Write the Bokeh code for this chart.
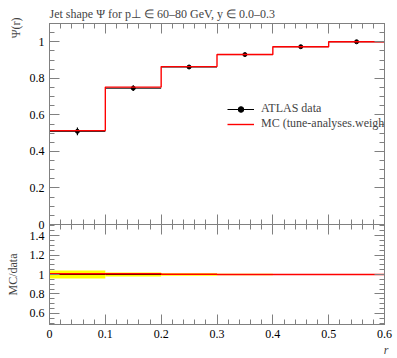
import numpy as np
from bokeh.plotting import figure
from bokeh.layouts import column
from bokeh.models import (Range1d, LinearAxis, FixedTicker, CustomJSTickFormatter,
                          Title, Legend, LegendItem)
from bokeh.embed import file_html
from bokeh.resources import INLINE

# ---------------- data ----------------
r_edges = [0.0, 0.1, 0.2, 0.3, 0.4, 0.5, 0.6]
data_psi = [0.510, 0.746, 0.862, 0.930, 0.973, 1.000]
data_err = [0.021, 0.016, 0.011, 0.006, 0.003, 0.001]
mc_psi = [0.514, 0.752, 0.864, 0.930, 0.973, 1.000]

x_ticks = [0.0, 0.1, 0.2, 0.3, 0.4, 0.5, 0.6]
main_y_ticks = [0.0, 0.2, 0.4, 0.6, 0.8, 1.0]
ratio_y_ticks = [0.6, 0.8, 1.0, 1.2, 1.4]

title_text = "Jet shape Ψ for p⊥ ∈ 60–80 GeV, y ∈ 0.0–0.3"
ylabel_main = "Ψ(r)"
ylabel_ratio = "MC/data"
xlabel = "r"
legend_data = "ATLAS data"
legend_mc = "MC (tune-analyses.weight"

# ---------------- style ----------------
FONT = "Liberation Serif"
GREY = "#808080"
FS = "12px"

lo = np.array(r_edges[:-1])
hi = np.array(r_edges[1:])
mid = (lo + hi) / 2
d = np.array(data_psi)
e = np.array(data_err)
m = np.array(mc_psi)

x_minor = list(np.round(np.arange(0, 0.6001, 0.02), 4))
main_minor = list(np.round(np.arange(0, 1.1001, 0.05), 4))
ratio_minor = list(np.round(np.arange(0.45, 1.5501, 0.05), 4))

fmt_code = "return Number(tick.toFixed(2)).toString();"


def style_axis(ax, ticks, minor, labels):
    ax.ticker = FixedTicker(ticks=ticks, minor_ticks=minor)
    ax.major_tick_in = 10
    ax.major_tick_out = 0
    ax.minor_tick_in = 5
    ax.minor_tick_out = 0
    ax.axis_line_color = GREY
    ax.major_tick_line_color = GREY
    ax.minor_tick_line_color = GREY
    if labels:
        ax.formatter = CustomJSTickFormatter(code=fmt_code)
        ax.major_label_text_font = FONT
        ax.major_label_text_font_size = FS
        ax.major_label_text_color = "black"
        ax.major_label_standoff = 5
    else:
        ax.major_label_text_font_size = "0px"
        ax.major_label_standoff = 0


def make_fig(height, yr, top, bottom):
    p = figure(width=394, height=height, x_range=Range1d(0, 0.6), y_range=yr,
               output_backend="svg", toolbar_location=None,
               min_border_left=49, min_border_right=10,
               min_border_top=top, min_border_bottom=bottom)
    p.grid.visible = False
    p.outline_line_color = GREY
    return p


# ---------------- main panel ----------------
main = make_fig(231, Range1d(0, 1.1), 23, 7)
style_axis(main.xaxis[0], x_ticks, x_minor, False)
style_axis(main.yaxis[0], main_y_ticks, main_minor, True)
ax_top = LinearAxis()
style_axis(ax_top, x_ticks, x_minor, False)
main.add_layout(ax_top, "above")
ax_right = LinearAxis()
style_axis(ax_right, main_y_ticks, main_minor, False)
main.add_layout(ax_right, "right")

seg_r = main.segment(x0=lo, x1=hi, y0=d, y1=d, line_color="black", line_width=1)
main.segment(x0=mid, x1=mid, y0=d - e, y1=d + e, line_color="black", line_width=1.2)
sc_r = main.scatter(x=mid, y=d, size=4, color="black")
step_r = main.step(x=r_edges, y=list(m) + [m[-1]], mode="after",
                   line_color="#ff0000", line_width=1.4)

legend = Legend(items=[LegendItem(label=legend_data, renderers=[seg_r, sc_r]),
                       LegendItem(label=legend_mc, renderers=[step_r])],
                location=(178, 93), padding=0, margin=0, spacing=0,
                label_height=14, glyph_height=14, glyph_width=27,
                label_standoff=7, label_text_font=FONT,
                label_text_font_size=FS, background_fill_alpha=0,
                border_line_alpha=0)
main.add_layout(legend, "center")

main.add_layout(Title(text=title_text, align="left", text_font=FONT,
                      text_font_size=FS, text_font_style="normal",
                      standoff=6, offset=0), "above")
main.add_layout(Title(text=ylabel_main, align="right", text_font=FONT,
                      text_font_size=FS, text_font_style="normal",
                      standoff=8, offset=-6), "left")

# ---------------- ratio panel ----------------
ratio = make_fig(132, Range1d(0.485, 1.515), 0, 32)
ratio.margin = (-7, 0, 0, 0)
ratio.background_fill_alpha = 0
ratio.border_fill_alpha = 0
style_axis(ratio.xaxis[0], x_ticks, x_minor, True)
style_axis(ratio.yaxis[0], ratio_y_ticks, ratio_minor, True)
ratio.yaxis[0].axis_label = ylabel_ratio
ratio.yaxis[0].axis_label_text_font = FONT
ratio.yaxis[0].axis_label_text_font_size = FS
ratio.yaxis[0].axis_label_text_font_style = "normal"
ratio.yaxis[0].axis_label_standoff = 7
rax_top = LinearAxis()
style_axis(rax_top, x_ticks, x_minor, False)
ratio.add_layout(rax_top, "above")
rax_right = LinearAxis()
style_axis(rax_right, ratio_y_ticks, ratio_minor, False)
ratio.add_layout(rax_right, "right")

rel = e / d
data_ratio = d / d
mc_ratio = m / d
ratio.quad(left=lo, right=hi, bottom=data_ratio - rel, top=data_ratio + rel,
           fill_color="#ffff00", line_color=None)
ratio.step(x=r_edges, y=list(data_ratio) + [data_ratio[-1]], mode="after",
           line_color="black", line_width=1)
ratio.step(x=r_edges, y=list(mc_ratio) + [mc_ratio[-1]], mode="after",
           line_color="#ff0000", line_width=1.4)

ratio.add_layout(Title(text=xlabel, align="right", text_font=FONT,
                       text_font_size=FS, text_font_style="italic",
                       standoff=0, offset=-4), "below")

layout = column(main, ratio, spacing=0)
open("out.html", "w").write(file_html(layout, INLINE))
